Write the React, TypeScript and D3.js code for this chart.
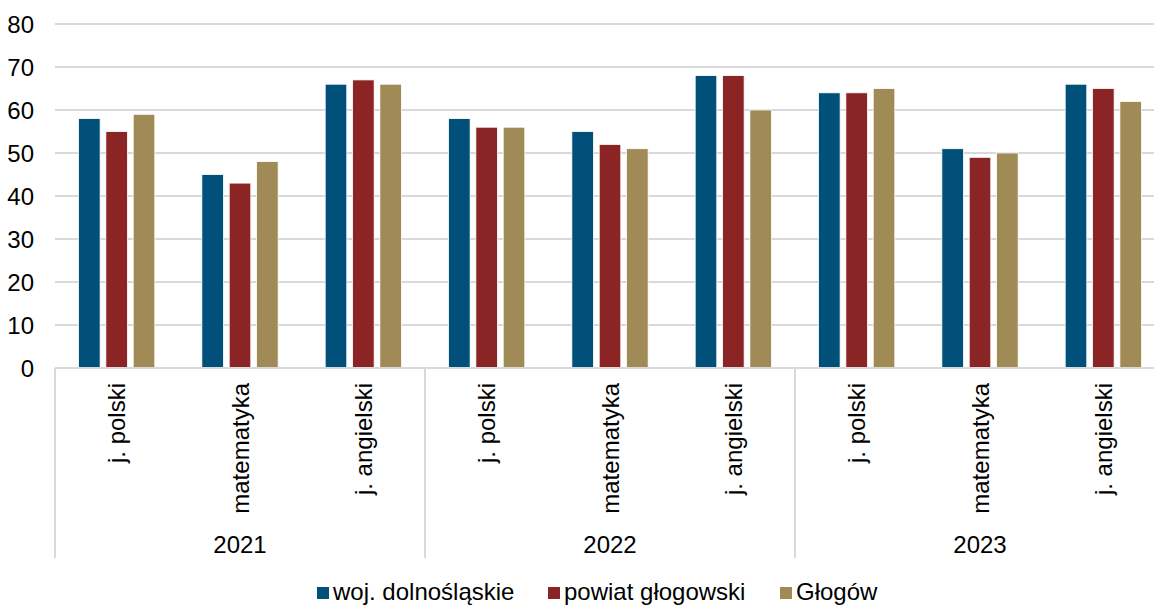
import React from "react";
import * as d3 from "d3";

const years = ["2021", "2022", "2023"];
const subjects = ["j. polski", "matematyka", "j. angielski"];
const seriesNames = ["woj. dolnośląskie", "powiat głogowski", "Głogów"];
const seriesColors = ["#00507A", "#8B2424", "#A08A56"];
// values per year, per subject, per series
const wojValues = [58, 45, 66, 58, 55, 68, 64, 51, 66];
const powiatValues = [55, 43, 67, 56, 52, 68, 64, 49, 65];
const glogowValues = [59, 48, 66, 56, 51, 60, 65, 50, 62];
const yTicks = [0, 10, 20, 30, 40, 50, 60, 70, 80];

const W = 1154;
const H = 606;
const left = 55;
const right = 1165;
const top = 24;
const bottom = 368;
const FONT = "'Liberation Sans', Arial, sans-serif";

export default function App() {
  const categories = years.flatMap((y) => subjects.map((s) => `${y}|${s}`));
  const x = d3.scaleBand<string>().domain(categories).range([left, right]).paddingInner(0).paddingOuter(0);
  const inner = d3
    .scaleBand<number>()
    .domain([0, 1, 2])
    .range([0, x.bandwidth()])
    .paddingInner(0.21)
    .paddingOuter(0.86);
  const y = d3.scaleLinear().domain([0, 80]).range([bottom, top]);
  const series = [wojValues, powiatValues, glogowValues];
  const groupW = x.bandwidth() * subjects.length;

  return (
    <svg width={W} height={H} style={{ position: "absolute", left: 0, top: 0, background: "#fff" }} fontFamily={FONT}>
      {yTicks.map((t) => (
        <g key={t}>
          {t > 0 && (
            <line x1={left} x2={right} y1={y(t)} y2={y(t)} stroke="#d9d9d9" strokeWidth={2} />
          )}
          <text x={34} y={y(t)} dy="0.36em" textAnchor="end" fontSize={24} fill="#000">
            {t}
          </text>
        </g>
      ))}
      {categories.map((c, ci) =>
        series.map((vals, si) => {
          const v = vals[ci];
          return (
            <rect
              key={`${c}-${si}`}
              x={(x(c) as number) + (inner(si) as number)}
              y={y(v)}
              width={inner.bandwidth()}
              height={y(0) - y(v)}
              fill={seriesColors[si]}
              stroke="#fff"
              strokeWidth={0.8}
            />
          );
        })
      )}
      <line x1={left} x2={right} y1={bottom} y2={bottom} stroke="#d9d9d9" strokeWidth={2} />
      {[0, 1, 2, 3].map((i) => (
        <line
          key={i}
          x1={left + i * groupW}
          x2={left + i * groupW}
          y1={bottom}
          y2={558}
          stroke="#d9d9d9"
          strokeWidth={2}
        />
      ))}
      {categories.map((c, ci) => {
        const cx = (x(c) as number) + x.bandwidth() / 2;
        return (
          <text
            key={c}
            transform={`translate(${cx},383) rotate(-90)`}
            textAnchor="end"
            dy="0.36em"
            fontSize={24}
            fill="#000"
          >
            {subjects[ci % 3]}
          </text>
        );
      })}
      {years.map((yr, i) => (
        <text key={yr} x={left + groupW * (i + 0.5)} y={553} textAnchor="middle" fontSize={24} fill="#000">
          {yr}
        </text>
      ))}
      {seriesNames.map((n, i) => {
        const lx = [317, 548, 780][i];
        return (
          <g key={n}>
            <rect x={lx} y={587} width={12} height={12} fill={seriesColors[i]} />
            <text x={lx + 16} y={600} fontSize={24} fill="#000">
              {n}
            </text>
          </g>
        );
      })}
    </svg>
  );
}
